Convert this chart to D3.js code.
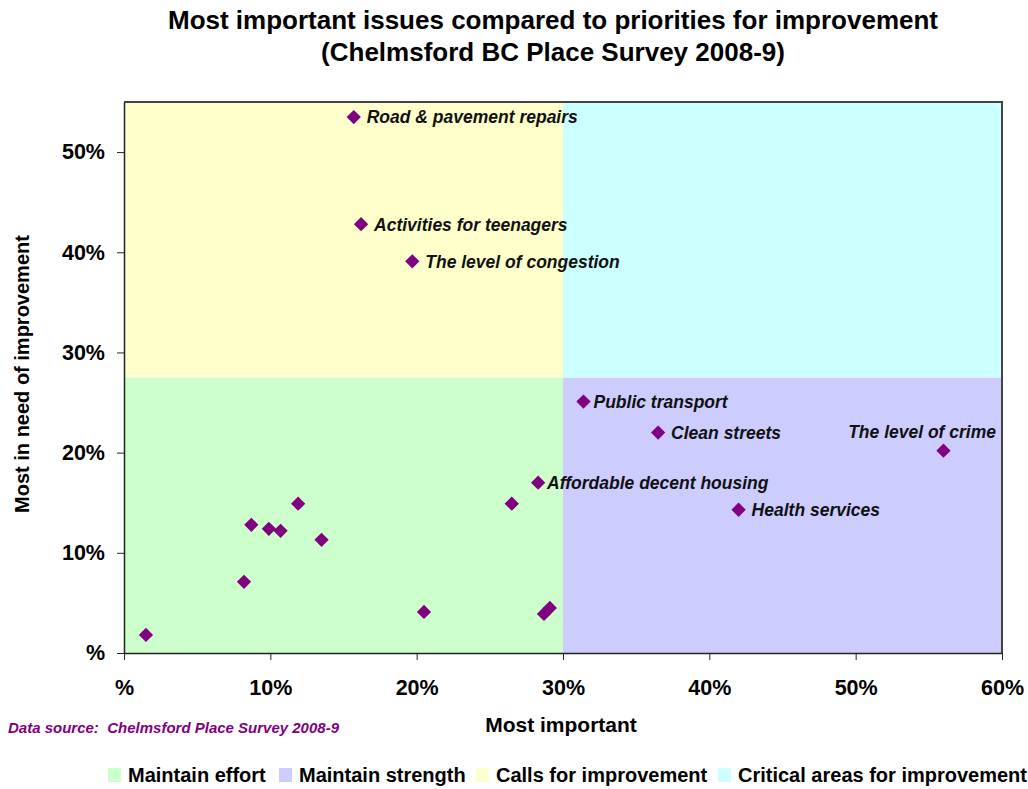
<!DOCTYPE html>
<html>
<head>
<meta charset="utf-8">
<script src="https://cdn.jsdelivr.net/npm/d3@7"></script>
<style>
body { margin:0; background:#fff; }
text { font-family: "Liberation Sans", Arial, sans-serif; }
.tick text { font-weight:bold; font-size:21.5px; fill:#000; }
</style>
</head>
<body>
<div id="chart"></div>
<script>
// issues: most important (x) vs most in need of improvement (y)
let issueNames=["Road & pavement repairs","Activities for teenagers","The level of congestion",
 "Public transport","Clean streets","The level of crime","Affordable decent housing","Health services",
 "","","","","","","","","","",""];
let mostImportant=[15.7,16.2,19.7,31.4,36.5,56.0,28.3,42.0,
 26.5,11.9,8.7,9.9,10.7,13.5,8.2,1.5,20.5,28.7,29.1];
let needImprovement=[53.5,42.8,39.1,25.1,22.0,20.2,17.0,14.3,
 14.9,14.9,12.8,12.4,12.2,11.3,7.1,1.8,4.1,3.9,4.5];

let xTicks=[0,10,20,30,40,50,60];
let yTicks=[0,10,20,30,40,50];
let xSplit=30, ySplit=27.5;

let quadNames=["Maintain effort","Maintain strength","Calls for improvement","Critical areas for improvement"];
let quadColors=["#ccffcc","#ccccff","#ffffcc","#ccffff"];

let width=1028, height=789;
let svg=d3.select("#chart").append("svg").attr("width",width).attr("height",height);

let x=d3.scaleLinear().domain([0,60]).range([124,1002]);
let y=d3.scaleLinear().domain([0,55]).range([653,102]);

// quadrants: [x0,x1,y0,y1]
let quads=[[0,xSplit,0,ySplit],[xSplit,60,0,ySplit],[0,xSplit,ySplit,55],[xSplit,60,ySplit,55]];
svg.selectAll("rect.quad").data(quads).enter().append("rect")
 .attr("class","quad")
 .attr("x",d=>x(d[0])).attr("y",d=>y(d[3]))
 .attr("width",d=>x(d[1])-x(d[0])).attr("height",d=>y(d[2])-y(d[3]))
 .attr("fill",(d,i)=>quadColors[i]);

// frame top/right
svg.append("path").attr("d","M"+x(0)+","+y(55)+"H"+x(60)+"V"+y(0))
 .attr("fill","none").attr("stroke","#444").attr("stroke-width",2);

let fmt=d=>d===0?"%":d+"%";
let xAxis=d3.axisBottom(x).tickValues(xTicks).tickFormat(fmt).tickSizeInner(7).tickSizeOuter(0).tickPadding(22);
let yAxis=d3.axisLeft(y).tickValues(yTicks).tickFormat(fmt).tickSizeInner(7).tickSizeOuter(0).tickPadding(12);
let gx=svg.append("g").attr("transform","translate(0,"+y(0)+")").call(xAxis);
let gy=svg.append("g").attr("transform","translate("+x(0)+",0)").call(yAxis);
gx.select(".domain").attr("stroke","#222").attr("stroke-width",1.5);
gy.select(".domain").attr("stroke","#222").attr("stroke-width",1.5);
gx.selectAll(".tick line").attr("stroke","#222");
gy.selectAll(".tick line").attr("stroke","#222");
gx.selectAll(".tick text").attr("dy","0.6em");

// points
let pts=mostImportant.map((v,i)=>({x:v,y:needImprovement[i],name:issueNames[i]}));
let diamond=d3.symbol().type(d3.symbolDiamond2).size(130);
svg.selectAll("path.pt").data(pts).enter().append("path")
 .attr("class","pt")
 .attr("d",diamond)
 .attr("transform",d=>"translate("+x(d.x)+","+y(d.y)+")")
 .attr("fill","#800080");

// labels
svg.selectAll("text.lbl").data(pts.filter(d=>d.name)).enter().append("text")
 .attr("class","lbl")
 .attr("x",d=>d.name==="The level of crime"?x(60)-6:x(d.x)+(d.name==="Affordable decent housing"?9:(d.name==="Public transport"?10:13)))
 .attr("y",d=>d.name==="The level of crime"?y(d.y)-19:y(d.y))
 .attr("dy","0.36em")
 .attr("text-anchor",d=>d.name==="The level of crime"?"end":"start")
 .attr("font-size",17.5).attr("font-weight","bold").attr("font-style","italic")
 .attr("fill","#111")
 .text(d=>d.name);

// titles
svg.append("text").attr("x",553).attr("y",29).attr("text-anchor","middle")
 .attr("font-size",26).attr("font-weight","bold").text("Most important issues compared to priorities for improvement");
svg.append("text").attr("x",553).attr("y",61).attr("text-anchor","middle")
 .attr("font-size",26).attr("font-weight","bold").text("(Chelmsford BC Place Survey 2008-9)");

svg.append("text").attr("x",561).attr("y",732).attr("text-anchor","middle")
 .attr("font-size",21).attr("font-weight","bold").text("Most important");
svg.append("text").attr("transform","translate(29,374) rotate(-90)").attr("text-anchor","middle")
 .attr("font-size",20).attr("font-weight","bold").text("Most in need of improvement");

svg.append("text").attr("x",8).attr("y",733)
 .attr("font-size",15).attr("font-weight","bold").attr("font-style","italic").attr("fill","#800080")
 .attr("xml:space","preserve").text("Data source:  Chelmsford Place Survey 2008-9");

// legend
let legX=[108,279,476,718];
let leg=svg.selectAll("g.leg").data(quadNames).enter().append("g")
 .attr("class","leg").attr("transform",(d,i)=>"translate("+legX[i]+",768)");
leg.append("rect").attr("width",13).attr("height",14).attr("fill",(d,i)=>quadColors[i]);
leg.append("text").attr("x",20).attr("y",7).attr("dy","0.36em")
 .attr("font-size",20).attr("font-weight","bold").text(d=>d);
</script>
</body>
</html>
